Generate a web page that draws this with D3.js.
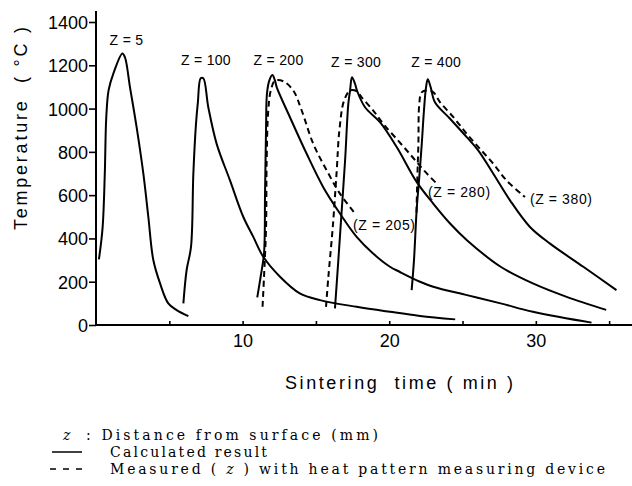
<!DOCTYPE html>
<html><head><meta charset="utf-8">
<script src="https://cdn.jsdelivr.net/npm/d3@7/dist/d3.min.js"></script>
<style>body{margin:0;background:#fff}svg{display:block}</style>
</head><body>
<svg id="c" width="632" height="486"></svg>
<script>
// ---- data (time in min, temperature in °C) ----
const calcZ5 = [[0.2,303],[0.45,450],[0.6,700],[0.7,960],[0.86,1085],[1.2,1165],[1.8,1255],[1.98,1236],[2.32,1098],[2.77,914],[3.23,699],[3.57,499],[3.91,300],[4.37,192],[4.93,100],[5.5,69],[6.3,41]];
const calcZ100 = [[5.96,100],[6.18,253],[6.48,361],[6.64,699],[6.82,929],[6.95,1030],[7.14,1140],[7.32,1140],[7.66,1006],[8.23,837],[9.14,668],[10.05,499],[10.73,407],[11.41,315],[12.55,223],[13.9,146],[15.28,115],[17.78,84],[20.05,61],[22.1,42],[24.5,26]];
const calcZ200 = [[11.0,128],[11.23,223],[11.46,330],[11.53,607],[11.6,914],[11.66,1068],[11.82,1129],[12.03,1155],[12.21,1129],[12.33,1098],[13.23,960],[14.37,791],[15.5,637],[16.64,515],[17.78,407],[18.9,330],[20.05,269],[20.7,246],[22.1,200],[23.0,177],[25.3,138],[27.6,100],[29.8,61],[33.8,11]];
const calcZ300 = [[16.3,77],[16.53,300],[16.76,530],[16.99,760],[17.21,1022],[17.33,1083],[17.46,1145],[17.67,1114],[17.82,1080],[18.35,1006],[19.37,937],[20.51,822],[21.88,660],[23.0,561],[24.15,469],[25.3,392],[27.6,269],[29.8,192],[32.1,130],[34.8,70]];
const calcZ400 = [[21.53,161],[21.69,300],[21.87,530],[22.05,683],[22.22,837],[22.37,991],[22.51,1098],[22.63,1135],[22.83,1098],[23.12,1029],[24.15,953],[25.29,868],[26.08,806],[27.1,699],[28.24,576],[29.6,453],[30.97,376],[33.24,269],[35.5,161]];
const measZ205 = [[11.36,84],[11.46,223],[11.6,453],[11.64,760],[11.75,991],[11.92,1083],[12.21,1129],[12.78,1126],[13.46,1083],[14.03,991],[14.82,837],[15.74,714],[16.64,607],[17.67,515]];
const measZ280 = [[15.69,84],[15.85,223],[16.15,453],[16.42,714],[16.6,899],[16.92,1037],[17.33,1083],[17.78,1080],[18.12,1052],[18.91,991],[19.6,929],[20.7,845],[21.6,775],[22.4,712],[23.2,656]];
const measZ380 = [[21.86,520],[21.92,683],[21.99,837],[22.05,1022],[22.21,1075],[22.56,1083],[23.01,1075],[23.47,1029],[24.38,960],[25.29,883],[26.19,814],[27.1,745],[28.0,668],[29.26,591]];

const calcSeries = [calcZ5, calcZ100, calcZ200, calcZ300, calcZ400];
const measSeries = [measZ205, measZ280, measZ380];

const peakLabels = ["Z = 5","Z = 100","Z = 200","Z = 300","Z = 400"];
const peakLabelAt = [[2.08,1317],[7.5,1225],[12.45,1225],[17.74,1215],[23.2,1215]];
const measLabels = ["(Z = 205)","(Z = 280)","(Z = 380)"];
const measLabelAt = [[17.53,462],[22.65,614],[29.6,582]];

const xTicks = [0,5,10,15,20,25,30,35];
const xTickLabels = [10,20,30];
const yTicks = [0,200,400,600,800,1000,1200,1400];

const xTitle = "Sintering  time ( min )";
const yTitle = "Temperature  ( °C )";
const legendLines = ["Distance from surface (mm)","Calculated result","with heat pattern measuring device"];

// ---- drawing ----
const svg = d3.select("#c");
const x = d3.scaleLinear().domain([0, 36.56]).range([96, 632]);
const y = d3.scaleLinear().domain([0, 1400]).range([325, 22]);
const sans = "Liberation Sans, Arial, sans-serif";
const serif = "DejaVu Serif, serif";

// stretch a text element's letter spacing so it spans a target width
function fitWidth(sel, target) {
  const node = sel.node();
  const w = node.getComputedTextLength();
  const n = node.textContent.length;
  if (n > 1) sel.style("letter-spacing", ((target - w) / (n - 1)) + "px");
  return sel;
}

// y axis
const yAxis = d3.axisLeft(y).tickValues(yTicks).tickSize(7).tickSizeOuter(0).tickFormat(d3.format("d"));
const gy = svg.append("g").attr("transform", `translate(${x(0)},0)`).call(yAxis);
gy.select(".domain").remove();
gy.selectAll(".tick line").attr("stroke","#000").attr("stroke-width",1.6);
gy.selectAll(".tick text").attr("font-family",sans).attr("font-size",18).attr("fill","#000").attr("x",-8).attr("dy","0.36em");
svg.append("line").attr("x1",x(0)).attr("x2",x(0)).attr("y1",y(0)+1).attr("y2",11).attr("stroke","#000").attr("stroke-width",2);

// x axis
const xAxis = d3.axisBottom(x).tickValues(xTicks).tickSize(-4).tickSizeOuter(0).tickFormat(d => xTickLabels.includes(d) ? d : "");
const gx = svg.append("g").attr("transform", `translate(0,${y(0)})`).call(xAxis);
gx.select(".domain").remove();
gx.selectAll(".tick line").attr("stroke","#000").attr("stroke-width",1.6);
gx.selectAll(".tick text").attr("font-family",sans).attr("font-size",18).attr("fill","#000").attr("y",9);
gx.selectAll(".tick").filter(d => d === 0).select("line").remove();
svg.append("line").attr("x1",x(0)-1).attr("x2",632).attr("y1",y(0)).attr("y2",y(0)).attr("stroke","#000").attr("stroke-width",2);

// titles
const xt = svg.append("text").attr("x",285).attr("y",389).attr("text-anchor","start")
  .attr("font-family",sans).attr("font-size",18).attr("fill","#000").style("white-space","pre").text(xTitle);
fitWidth(xt, 228);
const yt = svg.append("text").attr("transform","translate(27,230) rotate(-90)").attr("text-anchor","start")
  .attr("font-family",sans).attr("font-size",18).attr("fill","#000").style("white-space","pre").text(yTitle);
fitWidth(yt, 203);

// curves
const line = d3.line().x(d => x(d[0])).y(d => y(d[1])).curve(d3.curveCatmullRom.alpha(0.5));
svg.append("g").selectAll("path").data(calcSeries).join("path")
  .attr("d", line).attr("fill","none").attr("stroke","#000").attr("stroke-width",2).attr("stroke-linejoin","round");
svg.append("g").selectAll("path").data(measSeries).join("path")
  .attr("d", line).attr("fill","none").attr("stroke","#000").attr("stroke-width",2).attr("stroke-dasharray","6,4");

// labels
svg.append("g").selectAll("text").data(peakLabels).join("text")
  .attr("x",(d,i)=>x(peakLabelAt[i][0])).attr("y",(d,i)=>y(peakLabelAt[i][1])).attr("dy","0.36em")
  .attr("text-anchor","middle").attr("font-family",sans).attr("font-size",14).attr("fill","#000")
  .style("white-space","pre").style("letter-spacing","0.3px").text(d=>d);
svg.append("g").selectAll("text").data(measLabels).join("text")
  .attr("x",(d,i)=>x(measLabelAt[i][0])).attr("y",(d,i)=>y(measLabelAt[i][1])).attr("dy","0.36em")
  .attr("text-anchor","start").attr("font-family",sans).attr("font-size",14).attr("fill","#000")
  .style("white-space","pre").style("letter-spacing","0.6px").text(d=>d);

// legend
const lg = svg.append("g").attr("font-family",serif).attr("font-size",14).attr("fill","#000");
lg.append("text").attr("x",63).attr("y",440).attr("font-style","italic").text("z");
const l1 = lg.append("text").attr("x",86).attr("y",440).style("white-space","pre").text(": " + legendLines[0]);
fitWidth(l1, 292);
lg.append("line").attr("x1",52).attr("x2",82).attr("y1",452).attr("y2",452).attr("stroke","#000").attr("stroke-width",1.5);
const l2 = lg.append("text").attr("x",110).attr("y",457).text(legendLines[1]);
fitWidth(l2, 157);
lg.append("line").attr("x1",50).attr("x2",82).attr("y1",469).attr("y2",469).attr("stroke","#000").attr("stroke-width",1.5).attr("stroke-dasharray","6,7");
const l3 = lg.append("text").attr("x",110).attr("y",474).style("white-space","pre");
l3.append("tspan").text("Measured ( ");
l3.append("tspan").attr("font-style","italic").text("z");
l3.append("tspan").text(" ) " + legendLines[2]);
fitWidth(l3, 495);
</script>
</body></html>
